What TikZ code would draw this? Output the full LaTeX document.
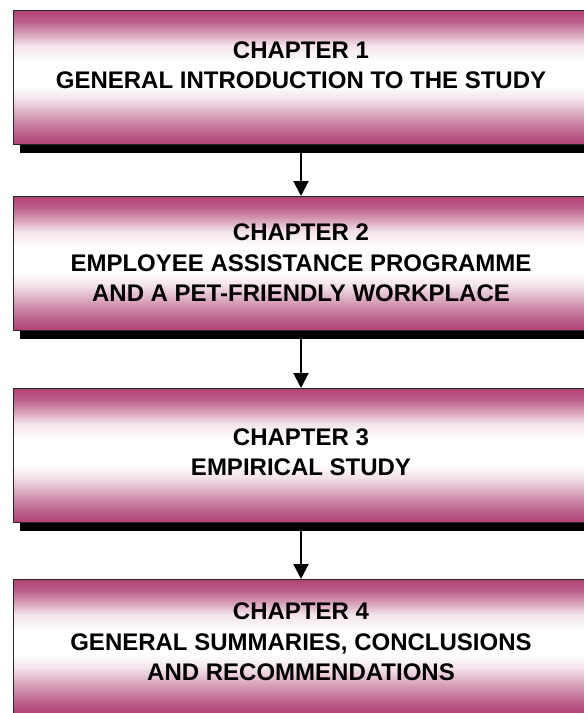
\documentclass[tikz,border=0pt]{standalone}
\usepackage{fontspec}
\setmainfont{Liberation Sans}
\usetikzlibrary{arrows.meta}
\definecolor{mag}{RGB}{176,66,116}
\pgfdeclareverticalshading{chapgrad}{100bp}{color(0bp)=(mag); color(25bp)=(mag); color(29bp)=(mag!85!white); color(35bp)=(mag!55!white); color(42bp)=(mag!15!white); color(47bp)=(white); color(56bp)=(white); color(62bp)=(mag!15!white); color(67bp)=(mag!55!white); color(71bp)=(mag!85!white); color(75bp)=(mag); color(100bp)=(mag)}
\tikzset{
  chapbox/.style={rectangle, draw=black!85, line width=1.3pt, shading=chapgrad, anchor=north west, inner sep=0pt, minimum width=590pt, minimum height=134pt},
  shadowbox/.style={rectangle, fill=black, anchor=north west, inner sep=0pt, minimum width=590pt, minimum height=134pt},
  lbl/.style={align=center, inner sep=0pt, font=\bfseries\fontsize{24}{30.5}\selectfont},
  flow/.style={line width=2pt, -{Triangle[width=15pt,length=15pt]}}
}
\begin{document}
\begin{tikzpicture}[x=1pt,y=-1pt]
\useasboundingbox (0,0) rectangle (584,713);
% shadows
\node[shadowbox] (s1) at (20,19) {};
\node[shadowbox] (s2) at (20,205) {};
\node[shadowbox] (s3) at (20,397) {};
% boxes
\node[chapbox] (b1) at (12.5,10) {};
\node[chapbox] (b2) at (12.5,196) {};
\node[chapbox] (b3) at (12.5,388) {};
\node[chapbox] (b4) at (12.5,579) {};
% labels
\node[lbl] (t1) at (301,65) {CHAPTER 1\\GENERAL INTRODUCTION TO THE STUDY};
\node[lbl] (t2) at (301,263) {CHAPTER 2\\EMPLOYEE ASSISTANCE PROGRAMME\\AND A PET-FRIENDLY WORKPLACE};
\node[lbl] (t3) at (301,452) {CHAPTER 3\\EMPIRICAL STUDY};
\node[lbl] (t4) at (301,642) {CHAPTER 4\\GENERAL SUMMARIES, CONCLUSIONS\\AND RECOMMENDATIONS};
% arrows
\draw[flow] (s1.south -| t1.center) -- (b2.north -| t1.center);
\draw[flow] (s2.south -| t2.center) -- (b3.north -| t2.center);
\draw[flow] (s3.south -| t3.center) -- (b4.north -| t3.center);
\end{tikzpicture}
\end{document}
